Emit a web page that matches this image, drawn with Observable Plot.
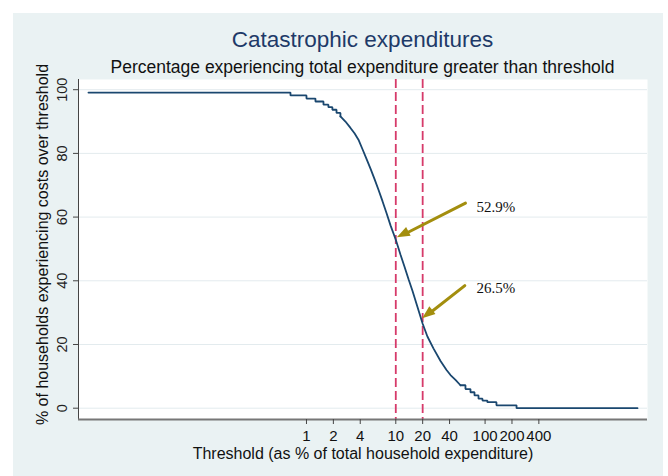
<!DOCTYPE html>
<html>
<head>
<meta charset="utf-8">
<script src="https://cdn.jsdelivr.net/npm/d3@7"></script>
<script src="https://cdn.jsdelivr.net/npm/@observablehq/plot@0.6"></script>
<style>
html, body { margin: 0; padding: 0; background: #ffffff; }
#wrap { position: relative; width: 668px; height: 476px; overflow: hidden; font-family: "Liberation Sans", Arial, sans-serif; }
#bg { position: absolute; left: 13px; top: 13px; width: 650px; height: 463px; background: #eaf2f3; }
#head { position: relative; height: 72px; }
#title { position: absolute; left: 78px; width: 569px; top: 27px; line-height: 26px; font-size: 22.5px; text-align: center; color: #1e3a68; white-space: nowrap; }
#subtitle { position: absolute; left: 78px; width: 569px; top: 57px; line-height: 20px; font-size: 17.5px; text-align: center; color: #111; white-space: nowrap; }
#chart { position: relative; }
#chart svg { display: block; overflow: visible; }
</style>
</head>
<body>
<div id="wrap">
  <div id="bg"></div>
  <div id="head">
    <div id="title">Catastrophic expenditures</div>
    <div id="subtitle">Percentage experiencing total expenditure greater than threshold</div>
  </div>
  <div id="chart"></div>
</div>
<script>
// Threshold (as % of total household expenditure) and % of households above it
// left tail (visible steps)
const thresholdsLeft = [0.00362, 0.662, 1.0, 1.26, 1.55, 1.76, 1.95, 2.17, 2.40];
const percentsLeft   = [99.1, 98.2, 97.2, 96.3, 95.3, 94.5, 93.7, 92.7, 91.6];
// steep middle (steps too fine to see)
const thresholdsMid  = [2.40, 2.73, 3.11, 3.45, 3.82, 4.24, 4.70, 5.21, 5.77, 6.40, 7.10, 7.87, 8.73, 10, 11.3, 12.5, 13.9, 15.4, 17.5, 20, 22.6, 26.4, 31.7, 37.0, 41.0, 46.6, 53.0];
const percentsMid    = [91.6, 90.0, 88.0, 86.3, 84.3, 81.3, 78.3, 75.2, 72.0, 68.6, 65.0, 61.3, 57.4, 52.9, 48.2, 44.5, 40.5, 36.8, 31.8, 26.5, 22.5, 18.8, 14.8, 12.0, 10.4, 8.9, 7.2];
// right tail (visible steps)
const thresholdsRight = [53.0, 60.3, 68.6, 76.1, 84.4, 93.5, 106, 134, 225, 5090];
const percentsRight   = [7.2, 6.0, 5.0, 4.0, 3.0, 2.4, 1.9, 0.9, 0.0, 0.0];

const xTicks = [1, 2, 4, 10, 20, 40, 100, 200, 400];
const yTicks = [0, 20, 40, 60, 80, 100];
const xDomain = [0.0028, 6586];
const yDomain = [-3.55, 103.2];

// reference lines (thresholds of 10% and 20%)
const refLines = [10, 20];

// annotations
const annotLabels = ["52.9%", "26.5%"];
const annotTextX  = [80, 80];
const annotTextY  = [63.2, 37.7];
const arrowTailX  = [60.3, 59.3];
const arrowTailY  = [64.4, 38.5];
const arrowTipX   = [10.4, 20.0];
const arrowTipY   = [53.5, 28.1];

const xLabel = "Threshold (as % of total household expenditure)";
const yLabel = "% of households experiencing costs over threshold";

const toRows = (ts, ps) => ts.map((t, i) => ({t, p: ps[i]}));
const left = toRows(thresholdsLeft, percentsLeft);
const mid = toRows(thresholdsMid, percentsMid);
const right = toRows(thresholdsRight, percentsRight);
const arrows = arrowTailX.map((_, i) => ({x1: arrowTailX[i], y1: arrowTailY[i], x2: arrowTipX[i], y2: arrowTipY[i]}));
const notes = annotLabels.map((s, i) => ({s, x: annotTextX[i], y: annotTextY[i]}));

const lineStyle = {x: "t", y: "p", stroke: "#1a476f", strokeWidth: 1.8, strokeLinejoin: "miter"};
const arrowColor = "#a38e0e";

const chart = Plot.plot({
  width: 668,
  height: 404,
  marginLeft: 78,
  marginRight: 21,
  marginTop: 7,
  marginBottom: 57,
  style: {background: "transparent", fontFamily: "'Liberation Sans', Arial, sans-serif", color: "#222", overflow: "visible"},
  x: {type: "log", domain: xDomain, axis: null},
  y: {domain: yDomain, axis: null},
  marks: [
    Plot.frame({fill: "white", stroke: null}),
    Plot.gridY(yTicks, {stroke: "#e3ebee", strokeOpacity: 1, strokeWidth: 1}),
    Plot.ruleX(refLines, {stroke: "#d63a6a", strokeWidth: 1.8, strokeDasharray: "9,4"}),
    Plot.line(left, {...lineStyle, curve: "step-after"}),
    Plot.line(mid, {...lineStyle, curve: "linear"}),
    Plot.line(right, {...lineStyle, curve: "step-after"}),
    Plot.arrow(arrows, {x1: "x1", y1: "y1", x2: "x2", y2: "y2", stroke: arrowColor, strokeWidth: 3, headLength: 0, insetEnd: 10}),
    Plot.text(notes, {x: "x", y: "y", text: "s", textAnchor: "start", fontFamily: "'Liberation Serif', 'Times New Roman', serif", fontSize: 15, fill: "#111"}),
    Plot.ruleX([xDomain[0]], {stroke: "#444", strokeWidth: 1}),
    Plot.ruleY([yDomain[0]], {stroke: "#777", strokeWidth: 2}),
    // x-axis ticks and labels
    Plot.ruleX(xTicks, {x: d => d, y1: yDomain[0], y2: yDomain[0], insetBottom: -5, stroke: "#444", strokeWidth: 1}),
    Plot.text(xTicks, {x: d => d, text: d => String(d), frameAnchor: "bottom", dy: 17, lineAnchor: "middle", fontSize: 15, fill: "#111"}),
    Plot.axisY(yTicks, {tickSize: 5, tickPadding: 7, tickRotate: -90, label: null, fontSize: 14.5, stroke: "#444"}),
    Plot.text([xLabel], {frameAnchor: "bottom", dy: 34, lineAnchor: "middle", fontSize: 16, fill: "#111"}),
    Plot.text([yLabel], {frameAnchor: "left", dx: -36, dy: -5, rotate: -90, lineAnchor: "middle", textAnchor: "middle", fontSize: 16, fill: "#111"})
  ]
});

// filled arrowheads at each arrow tip, placed through the chart's own scales
const sx = chart.scale("x"), sy = chart.scale("y");
const svg = d3.select(chart);
arrows.forEach(a => {
  const x1 = sx.apply(a.x1), y1 = sy.apply(a.y1);
  const x2 = sx.apply(a.x2), y2 = sy.apply(a.y2);
  const dx = x2 - x1, dy = y2 - y1, L = Math.hypot(dx, dy);
  const ux = dx / L, uy = dy / L, nx = -uy, ny = ux;
  const hl = 13, hw = 5;
  const bx = x2 - ux * hl, by = y2 - uy * hl;
  svg.append("polygon")
    .attr("points", [[x2, y2], [bx + nx * hw, by + ny * hw], [bx - nx * hw, by - ny * hw]].map(p => p.join(",")).join(" "))
    .attr("fill", arrowColor);
});

document.getElementById("chart").appendChild(chart);
</script>
</body>
</html>
